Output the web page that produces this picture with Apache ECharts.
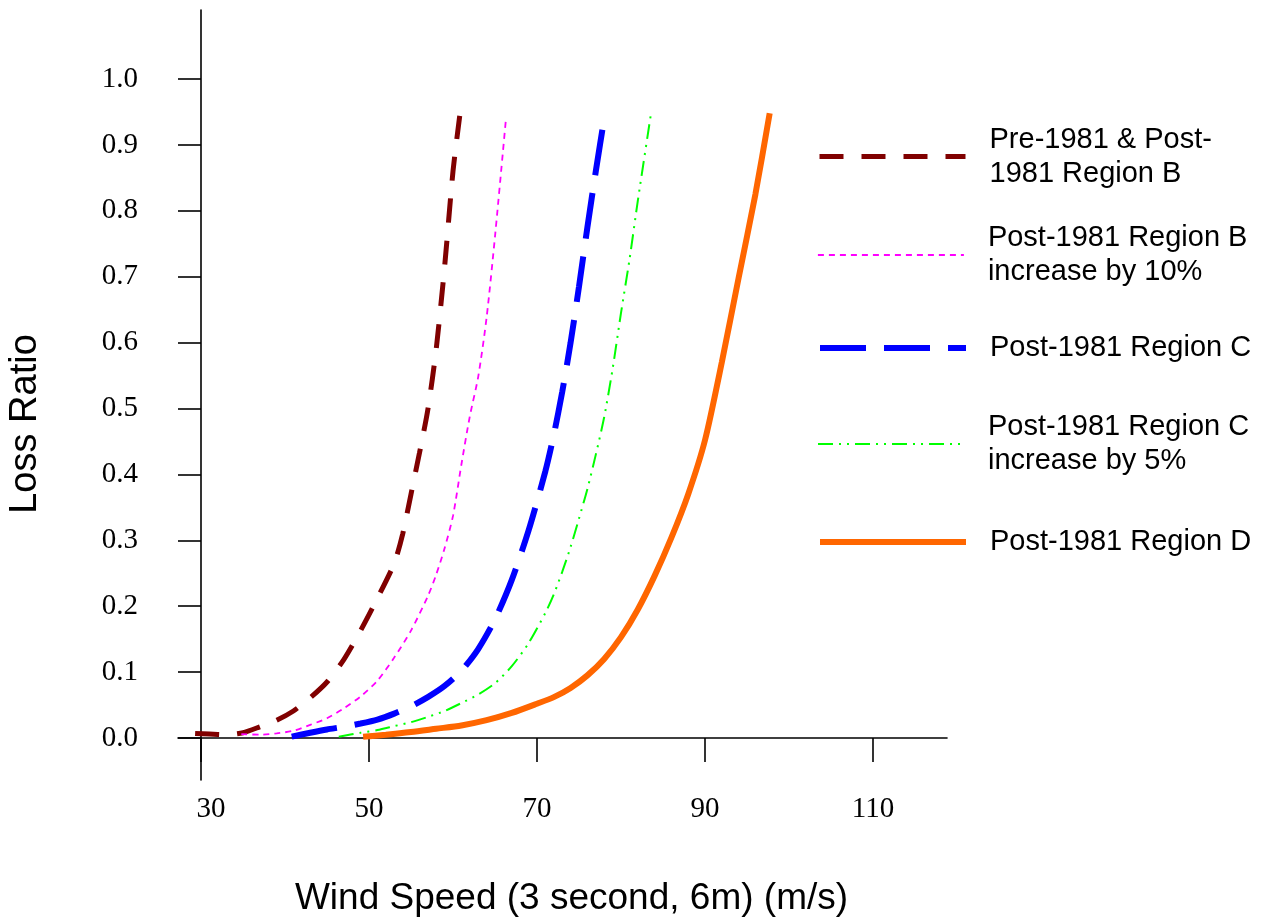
<!DOCTYPE html>
<html>
<head>
<meta charset="utf-8">
<script src="https://cdn.jsdelivr.net/npm/echarts@6/dist/echarts.min.js"></script>
<style>
html,body{margin:0;padding:0;background:#fff;}
#c{width:1268px;height:919px;}
</style>
</head>
<body>
<div id="c"></div>
<script>
// ---- data ----
const xTicks = [30, 50, 70, 90, 110];
const yTicks = [0, 0.1, 0.2, 0.3, 0.4, 0.5, 0.6, 0.7, 0.8, 0.9, 1.0];

const names = [
  'Pre-1981 & Post-\n1981 Region B',
  'Post-1981 Region B\nincrease by 10%',
  'Post-1981 Region C',
  'Post-1981 Region C\nincrease by 5%',
  'Post-1981 Region D'
];

const preBX = [29.3, 31, 33, 35, 37, 39, 41, 43, 45, 47, 49, 51, 53, 54, 55, 56, 57, 58, 59, 60, 60.8];
const preBY = [0.007, 0.006, 0.005, 0.008, 0.017, 0.027, 0.041, 0.061, 0.085, 0.119, 0.163, 0.212, 0.265, 0.309, 0.37, 0.432, 0.498, 0.59, 0.715, 0.86, 0.944];

const postB10X = [34.8, 37, 39, 41, 43, 45, 47, 49, 51, 53, 55, 57, 58, 59, 60, 61, 62, 63, 64, 65, 66.3];
const postB10Y = [0.006, 0.005, 0.007, 0.011, 0.02, 0.03, 0.045, 0.063, 0.087, 0.122, 0.163, 0.215, 0.248, 0.288, 0.337, 0.415, 0.488, 0.548, 0.638, 0.761, 0.939];

const postCX = [40.8, 43, 45, 47, 49, 51, 53, 55, 57, 59, 61, 63, 65, 67, 69, 71, 72, 73, 74, 75, 76, 77, 78.1];
const postCY = [0.002, 0.008, 0.013, 0.017, 0.022, 0.028, 0.037, 0.048, 0.062, 0.079, 0.102, 0.135, 0.18, 0.24, 0.315, 0.405, 0.46, 0.525, 0.6, 0.685, 0.775, 0.86, 0.948];

const postC5X = [46.4, 49, 51, 53, 55, 57, 59, 61, 63, 65, 67, 69, 71, 72, 73, 74, 75, 76, 77, 78, 79, 80, 81, 82, 83.6];
const postC5Y = [0.002, 0.008, 0.012, 0.018, 0.024, 0.032, 0.041, 0.053, 0.066, 0.083, 0.109, 0.144, 0.19, 0.218, 0.252, 0.29, 0.333, 0.378, 0.43, 0.487, 0.56, 0.645, 0.725, 0.815, 0.95];

const postDX = [49.3, 52, 55, 58, 61, 64, 67, 70, 72, 74, 76, 78, 80, 82, 84, 86, 88, 90, 92, 94, 96, 97.7];
const postDY = [0.002, 0.005, 0.009, 0.014, 0.019, 0.027, 0.038, 0.052, 0.062, 0.076, 0.095, 0.12, 0.153, 0.195, 0.246, 0.304, 0.37, 0.452, 0.57, 0.698, 0.825, 0.948];

// ---- build ----
function pairs(xs, ys) { return xs.map((x, i) => [x, ys[i]]); }

const seriesData = [
  pairs(preBX, preBY),
  pairs(postB10X, postB10Y),
  pairs(postCX, postCY),
  pairs(postC5X, postC5Y),
  pairs(postDX, postDY)
];
const colors = ['#800000', '#FF00FF', '#0000FF', '#00FF00', '#FF6600'];
const widths = [5, 1.8, 6, 2, 6];
const dashes = [[24, 18], [6, 5], [46, 18], [15, 6, 2, 6, 2, 6], 'solid'];

const SERIF = 'Liberation Serif, Times New Roman, serif';
const SANS = 'Liberation Sans, Arial, sans-serif';

const legendTops = [118, 221, 321, 400, 524];
const legendPads = [[0, 0, 9, 19], [0, 0, 0, 19], [0, 0, 20, 19], [20, 0, 0, 19], [0, 0, 2, 19]];

const legends = names.map((n, i) => ({
  left: 817,
  top: legendTops[i],
  padding: 0,
  orient: 'vertical',
  itemWidth: 146,
  itemHeight: 14,
  selectedMode: false,
  data: [n],
  itemStyle: { opacity: 0 },
  lineStyle: { width: widths[i], type: dashes[i], color: colors[i], cap: 'butt' },
  textStyle: { fontFamily: SANS, fontSize: 29, lineHeight: 34, color: '#000', padding: legendPads[i] }
}));

const option = {
  backgroundColor: '#fff',
  animation: false,
  grid: { left: 178, right: 321, top: 10, bottom: 139, containLabel: false, outerBoundsMode: 'none' },
  legend: legends,
  xAxis: {
    type: 'value',
    min: 30 - 23 / 8.4,
    max: 30 + 746 / 8.4,
    name: 'Wind Speed (3 second, 6m) (m/s)',
    nameLocation: 'middle',
    nameGap: 100,
    nameTextStyle: { fontFamily: SANS, fontSize: 37, color: '#000', padding: [0, 0, 0, 18] },
    axisLine: { onZero: true, lineStyle: { color: '#000', width: 1.6 } },
    axisTick: { show: true, length: 24, customValues: xTicks, lineStyle: { color: '#000', width: 1.6 } },
    axisLabel: {
      customValues: xTicks,
      margin: 15,
      fontFamily: SERIF,
      fontSize: 29,
      color: '#000',
      formatter: v => (v === 30 ? '{s|30}' : String(v)),
      rich: { s: { fontFamily: SERIF, fontSize: 29, color: '#000', padding: [0, 0, 0, 20] } }
    },
    splitLine: { show: false }
  },
  yAxis: {
    type: 'value',
    min: -42 / 659,
    max: 728 / 659,
    offset: -23,
    name: 'Loss Ratio',
    nameLocation: 'middle',
    nameGap: 156,
    nameTextStyle: { fontFamily: SANS, fontSize: 38, color: '#000', padding: [0, 58, 0, 0] },
    axisLine: { show: true, onZero: false, lineStyle: { color: '#000', width: 1.6 } },
    axisTick: { show: true, length: 23, customValues: yTicks, lineStyle: { color: '#000', width: 1.6 } },
    axisLabel: {
      customValues: yTicks,
      margin: 63,
      fontFamily: SERIF,
      fontSize: 29,
      color: '#000',
      formatter: v => v.toFixed(1)
    },
    splitLine: { show: false }
  },
  series: names.map((n, i) => ({
    name: n,
    type: 'line',
    data: seriesData[i],
    symbol: 'none',
    smooth: 0.25,
    clip: false,
    lineStyle: { color: colors[i], width: widths[i], type: dashes[i], cap: 'butt' },
    itemStyle: { color: colors[i] },
    z: 2 + i
  }))
};

const chart = echarts.init(document.getElementById('c'), null, { renderer: 'canvas' });
chart.setOption(option);
</script>
</body>
</html>
